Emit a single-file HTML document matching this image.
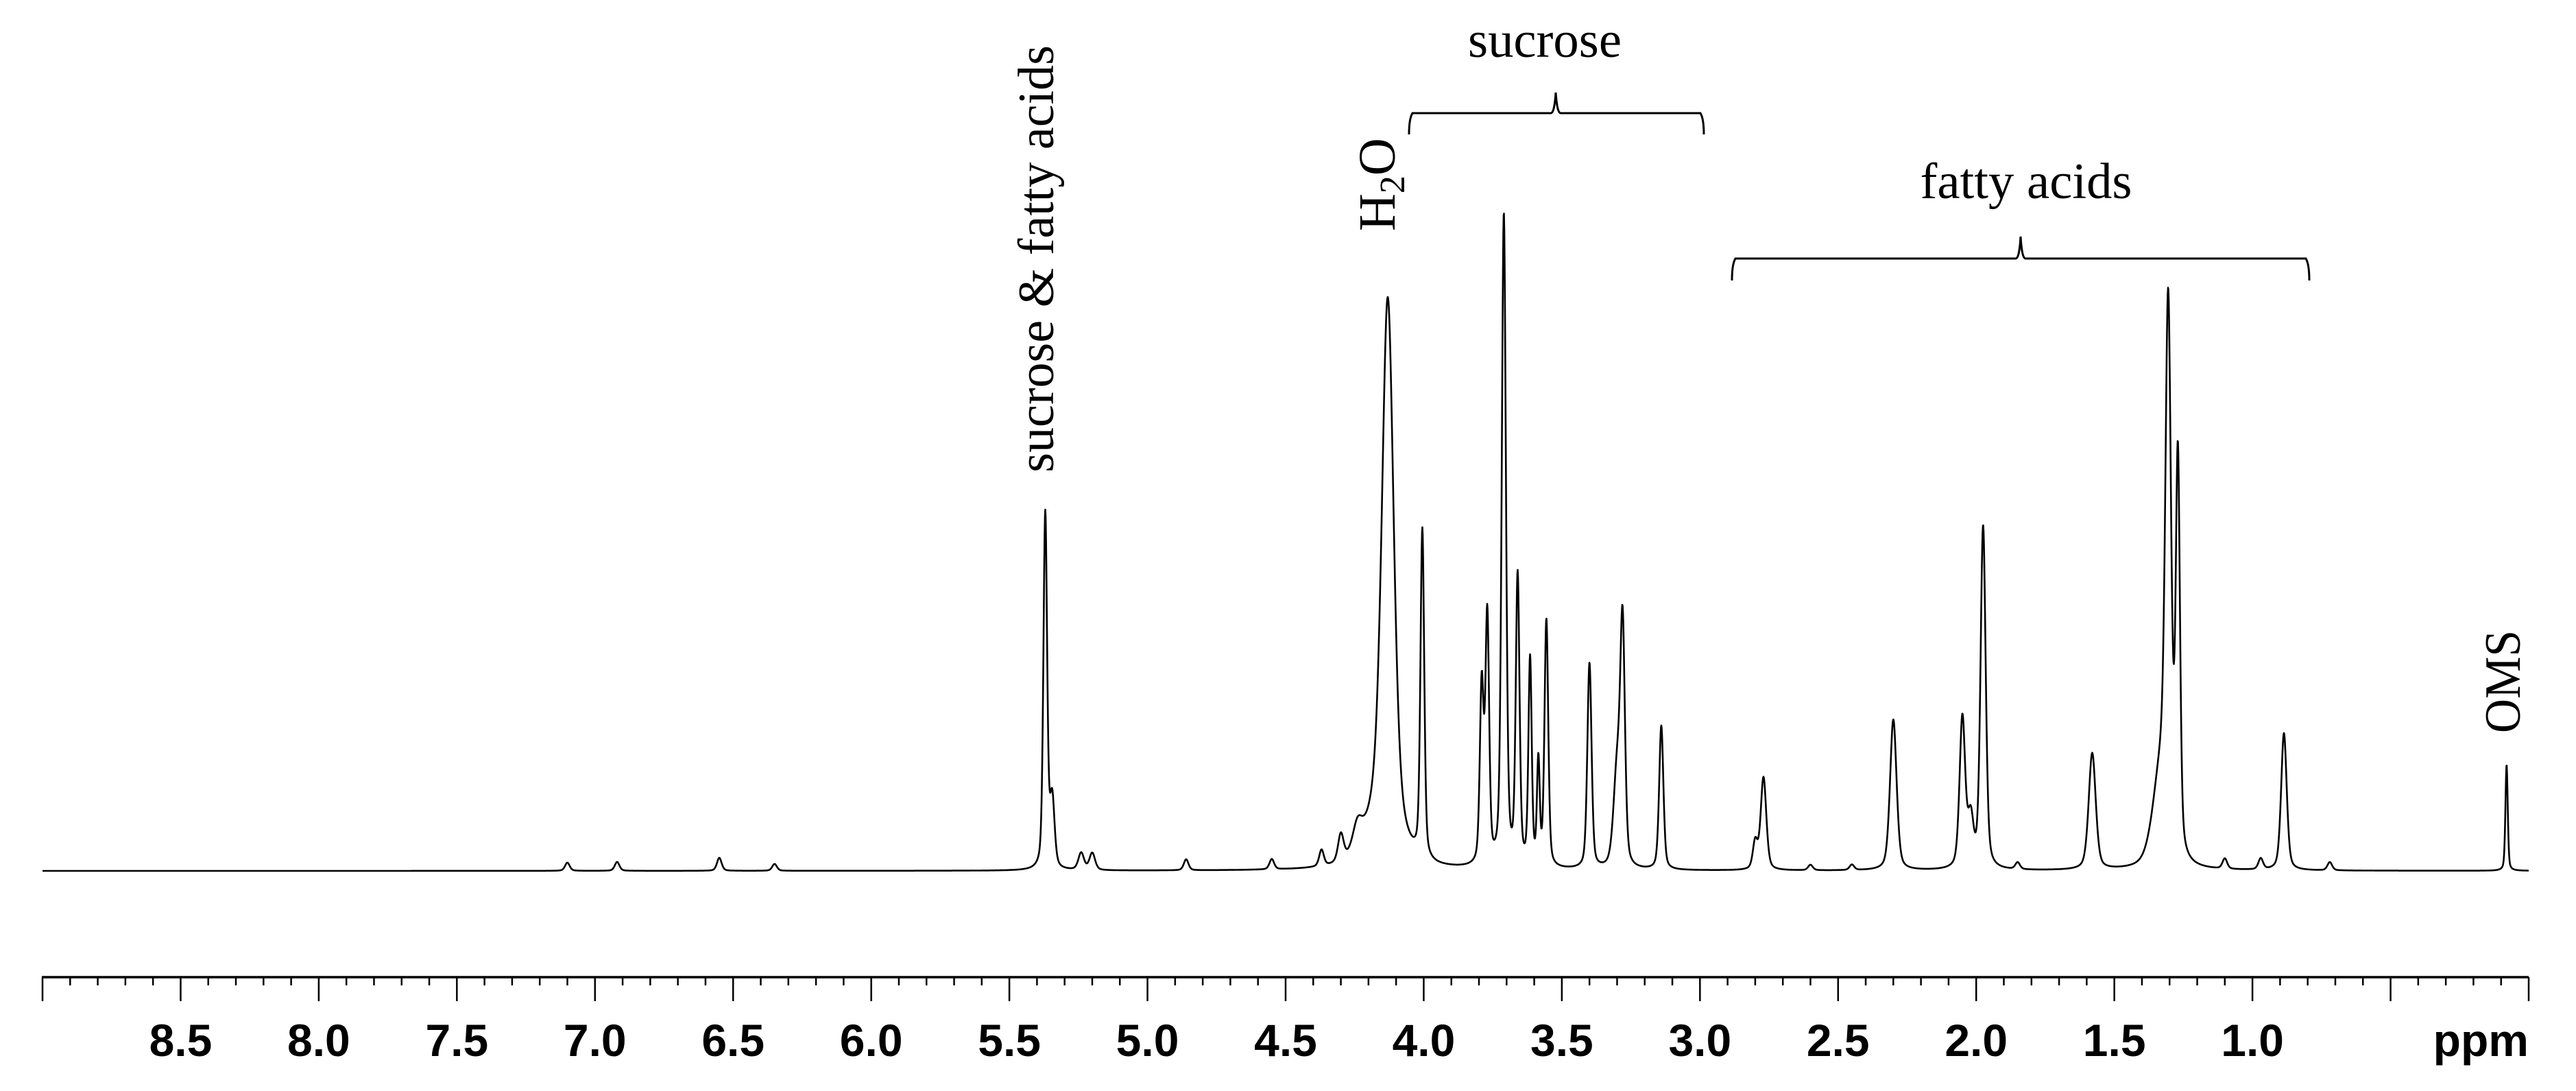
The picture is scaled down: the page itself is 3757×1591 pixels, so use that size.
<!DOCTYPE html>
<html><head><meta charset="utf-8"><style>
html,body{margin:0;padding:0;background:#fff;}
svg{display:block;}
</style></head>
<body>
<svg id="chart" width="3757" height="1591" viewBox="0 0 3757 1591" xmlns="http://www.w3.org/2000/svg">
  <rect width="3757" height="1591" fill="#fff"/>
  <g id="annotations" font-family="'Liberation Serif', serif" fill="#000">
    <text transform="translate(1536,689) rotate(-90)" font-size="74" textLength="623" lengthAdjust="spacingAndGlyphs">sucrose &amp; fatty acids</text>
    <text transform="translate(2034,337) rotate(-90)" font-size="76">H<tspan font-size="52" dy="14">2</tspan><tspan dy="-14">O</tspan></text>
    <text x="2253" y="83" font-size="74" text-anchor="middle" textLength="224" lengthAdjust="spacingAndGlyphs">sucrose</text>
    <text x="2955" y="289" font-size="74" text-anchor="middle" textLength="309" lengthAdjust="spacingAndGlyphs">fatty acids</text>
    <text transform="translate(3675,1069) rotate(-90)" font-size="74" textLength="150" lengthAdjust="spacingAndGlyphs">OMS</text>
    <path fill="none" stroke="#000" stroke-width="3"
      d="M2055,196 C2055,180 2057,170 2060,165 L2262,165 C2266,165 2268,150 2269,135 C2270,150 2272,165 2276,165 L2480,165 C2483,170 2485,180 2485,196"/>
    <path fill="none" stroke="#000" stroke-width="3"
      d="M2526,409 C2526,393 2528,382 2531,377 L2940,377 C2944,377 2946,362 2947,345 C2948,362 2950,377 2954,377 L3363,377 C3366,382 3368,393 3368,409"/>
  </g>
  <g id="spectrum"></g>
  <g id="axis"></g>
</svg>
<script>
// Peak data (chemical shift in ppm, intensity in arbitrary units, half-width in ppm)
const peakPpm = [5.37, 5.345, 5.24, 5.20, 4.86, 4.55, 4.37, 4.30, 4.24,
  4.13, 4.15, 4.005, 3.79, 3.77, 3.71, 3.66, 3.615, 3.585, 3.556, 3.40, 3.30, 3.28, 3.14,
  2.80, 2.77, 2.30, 2.05, 2.02, 1.975, 1.58, 1.33, 1.305, 1.27, 0.886, 0.08,
  7.10, 6.92, 6.55, 6.35, 2.60, 2.45, 1.85, 1.10, 0.97, 0.72];
const peakHeight = [52, 10, 2.5, 2.5, 1.6, 1.5, 2.4, 4, 3.5,
  76, 8, 48, 26, 36, 95, 42, 30, 15, 36, 30, 14, 34, 21,
  4, 13.5, 22, 22, 7, 50, 17, 14, 74, 57, 20, 15.5,
  1.2, 1.3, 1.9, 1.0, 0.8, 0.8, 1.0, 1.5, 1.6, 1.2];
const peakWidth = [0.008, 0.01, 0.012, 0.012, 0.01, 0.01, 0.01, 0.012, 0.02,
  0.025, 0.07, 0.008, 0.008, 0.008, 0.009, 0.008, 0.007, 0.006, 0.008, 0.009, 0.015, 0.01, 0.009,
  0.01, 0.012, 0.014, 0.012, 0.012, 0.011, 0.015, 0.035, 0.012, 0.009, 0.012, 0.005,
  0.01, 0.01, 0.01, 0.01, 0.01, 0.01, 0.01, 0.01, 0.01, 0.01];
const tickLabels = ["8.5","8.0","7.5","7.0","6.5","6.0","5.5","5.0","4.5","4.0","3.5","3.0","2.5","2.0","1.5","1.0"];
const ppmMax = 9.0, ppmMin = 0.0;

const NS = "http://www.w3.org/2000/svg";
const X0 = 62, X1 = 3688, YBASE = 1270, YTOP = 270;
const ETA = 0.4;
function xScale(ppm){ return X0 + (ppmMax - ppm) / (ppmMax - ppmMin) * (X1 - X0); }
function yScale(v){ return YBASE - v / 100 * (YBASE - YTOP); }
function ppmAt(px){ return ppmMax - (px - X0) / (X1 - X0) * (ppmMax - ppmMin); }

function intensity(ppm){
  let s = 0;
  for (let i = 0; i < peakPpm.length; i++){
    const d = (ppm - peakPpm[i]) / peakWidth[i];
    const lor = 1 / (1 + d * d);
    const gau = Math.exp(-Math.LN2 * d * d);
    s += peakHeight[i] * (ETA * lor + (1 - ETA) * gau);
  }
  return s;
}

const spec = document.getElementById('spectrum');
let d = "";
for (let px = X0; px <= X1; px += 0.5){
  const y = yScale(intensity(ppmAt(px)));
  d += (px === X0 ? "M" : "L") + px.toFixed(1) + "," + y.toFixed(1);
}
const line = document.createElementNS(NS, 'path');


line.setAttribute('d', d);
line.setAttribute('fill', 'none');
line.setAttribute('stroke', '#000');
line.setAttribute('stroke-width', '2.6');
line.setAttribute('stroke-linejoin', 'round');
spec.appendChild(line);

const axis = document.getElementById('axis');
const AY = 1425;
const axLine = document.createElementNS(NS, 'line');


axLine.setAttribute('x1', X0 - 1); axLine.setAttribute('x2', X1);
axLine.setAttribute('y1', AY); axLine.setAttribute('y2', AY);
axLine.setAttribute('stroke', '#000'); axLine.setAttribute('stroke-width', '3.5');
axis.appendChild(axLine);
for (let k = 0; k <= 90; k++){
  const ppm = ppmMax - k * 0.1;
  const x = xScale(ppm);
  const major = (k % 5 === 0);
  const t = document.createElementNS(NS, 'line');
  
  
  t.setAttribute('x1', x); t.setAttribute('x2', x);
  t.setAttribute('y1', AY); t.setAttribute('y2', AY + (major ? 35 : 12));
  t.setAttribute('stroke', '#000'); t.setAttribute('stroke-width', '2.5');
  axis.appendChild(t);
}
tickLabels.forEach(lbl => {
  const tx = document.createElementNS(NS, 'text');
  
  
  tx.setAttribute('x', xScale(parseFloat(lbl)));
  tx.setAttribute('y', 1540);
  tx.setAttribute('text-anchor', 'middle');
  tx.setAttribute('font-family', "'Liberation Sans', Arial, sans-serif");
  tx.setAttribute('font-weight', 'bold');
  tx.setAttribute('font-size', '66');
  tx.textContent = lbl;
  axis.appendChild(tx);
});
const unit = document.createElementNS(NS, 'text');


unit.setAttribute('x', X1);
unit.setAttribute('y', 1540);
unit.setAttribute('text-anchor', 'end');
unit.setAttribute('font-family', "'Liberation Sans', Arial, sans-serif");
unit.setAttribute('font-weight', 'bold');
unit.setAttribute('font-size', '66');
unit.textContent = 'ppm';
axis.appendChild(unit);
</script>
</body></html>
